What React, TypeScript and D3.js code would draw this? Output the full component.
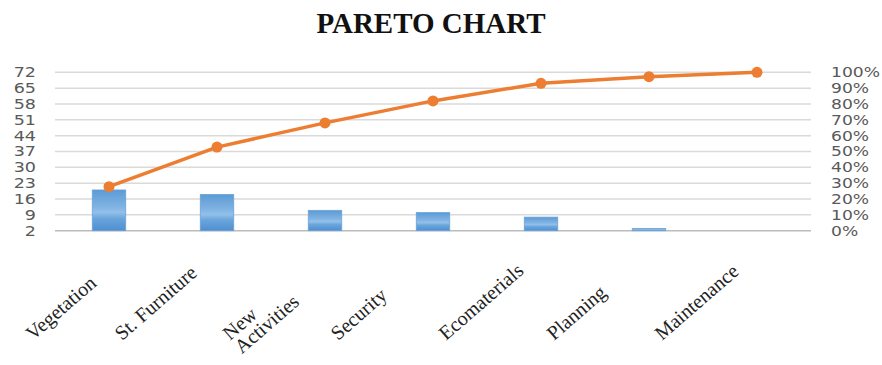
import React from "react";
import * as d3 from "d3";

const categories = ["Vegetation", "St. Furniture", "New Activities", "Security", "Ecomaterials", "Planning", "Maintenance"];
const labelLines = [["Vegetation"], ["St. Furniture"], ["New", "Activities"], ["Security"], ["Ecomaterials"], ["Planning"], ["Maintenance"]];
const counts = [20, 18, 11, 10, 8, 3, 2];
const leftTicks = [2, 9, 16, 23, 30, 37, 44, 51, 58, 65, 72];
const rightTicks = [0, 0.1, 0.2, 0.3, 0.4, 0.5, 0.6, 0.7, 0.8, 0.9, 1];
const title = "PARETO CHART";

const W = 882;
const H = 365;
const plotLeft = 55;
const plotRight = 811;
const plotTop = 72.3;
const plotBottom = 230.7;

export default function App() {
  const total = d3.sum(counts);
  const cumulative: number[] = Array.from(d3.cumsum(counts), (v) => v / total);

  const x = d3
    .scaleBand<string>()
    .domain(categories)
    .range([plotLeft, plotRight])
    .paddingInner(0.69)
    .paddingOuter(0.345);
  const yL = d3.scaleLinear().domain([2, 72]).range([plotBottom, plotTop]);
  const yR = d3.scaleLinear().domain([0, 1]).range([plotBottom, plotTop]);
  const cx = (c: string) => (x(c) as number) + x.bandwidth() / 2;

  const line = d3
    .line<number>()
    .x((_, i) => cx(categories[i]))
    .y((d) => yR(d));

  const axisFont = "'DejaVu Sans', sans-serif";

  return (
    <svg width={W} height={H} style={{ position: "absolute", left: 0, top: 0, background: "#fff" }}>
      <defs>
        <linearGradient id="barGrad" x1="0" y1="0" x2="0" y2="1">
          <stop offset="0%" stopColor="#5b9bd5" />
          <stop offset="40%" stopColor="#7fb2e2" />
          <stop offset="55%" stopColor="#93c0ea" />
          <stop offset="70%" stopColor="#6aa5dc" />
          <stop offset="100%" stopColor="#4f8fd0" />
        </linearGradient>
      </defs>
      <rect x={0} y={0} width={W} height={H} fill="#fff" />
      <text
        x={431}
        y={33}
        textAnchor="middle"
        fontFamily="'Liberation Serif', 'Times New Roman', serif"
        fontWeight="bold"
        fontSize={29}
        fill="#111"
      >
        {title}
      </text>

      {leftTicks.map((t, i) => (
        <line
          key={"g" + t}
          x1={plotLeft}
          x2={plotRight}
          y1={yL(t)}
          y2={yL(t)}
          stroke={i === 0 ? "#bcbcbc" : "#dadada"}
          strokeWidth={1.5}
        />
      ))}

      {leftTicks.map((t) => (
        <text
          key={"l" + t}
          transform={`translate(36,${yL(t)}) scale(1.3,1)`}
          dy="0.36em"
          textAnchor="end"
          fontFamily={axisFont}
          fontSize={13.5}
          fill="#595959"
        >
          {t}
        </text>
      ))}
      {rightTicks.map((t) => (
        <text
          key={"r" + t}
          transform={`translate(831,${yR(t)}) scale(1.27,1)`}
          dy="0.36em"
          textAnchor="start"
          fontFamily={axisFont}
          fontSize={13.5}
          fill="#595959"
        >
          {d3.format(".0%")(t)}
        </text>
      ))}

      {categories.map((c, i) => (
        <rect
          key={"b" + c}
          x={x(c)}
          y={yL(counts[i])}
          width={x.bandwidth()}
          height={Math.max(0, yL(2) - yL(counts[i]))}
          fill="url(#barGrad)"
          stroke="#6aa3da"
          strokeWidth={0.8}
        />
      ))}

      <path d={line(cumulative) || ""} fill="none" stroke="#ed7d31" strokeWidth={3.5} strokeLinejoin="round" />
      {cumulative.map((v, i) => (
        <circle key={"p" + i} cx={cx(categories[i])} cy={yR(v)} r={5.5} fill="#ed7d31" />
      ))}

      {categories.map((c, i) => {
        const px = Math.max(33, cx(c) - 95);
        const py = 341;
        return (
          <text
            key={"x" + c}
            transform={`translate(${px},${py}) rotate(-41)`}
            fontFamily="'Liberation Serif', 'Times New Roman', serif"
            fontSize={20}
            fill="#222"
          >
            {labelLines[i].map((ln, j) => (
              <tspan key={j} x={0} dy={j === 0 ? 0 : 18}>
                {ln}
              </tspan>
            ))}
          </text>
        );
      })}
    </svg>
  );
}
